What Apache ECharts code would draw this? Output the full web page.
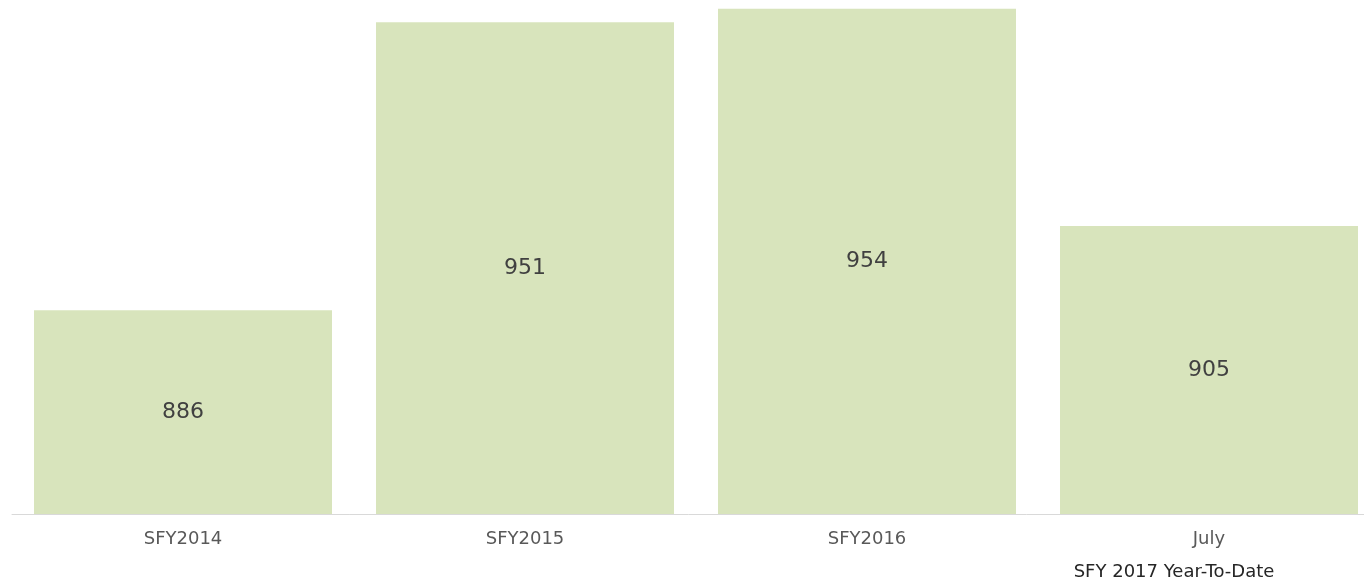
<!DOCTYPE html>
<html>
<head>
<meta charset="utf-8">
<script src="https://cdn.jsdelivr.net/npm/echarts@6/dist/echarts.min.js"></script>
<style>
  html, body { margin: 0; padding: 0; background: #fff; }
  #chart { width: 1364px; height: 586px; }
</style>
</head>
<body>
<div id="chart"></div>
<script>
const categories = ["SFY2014", "SFY2015", "SFY2016", "July"];
const values     = [886, 951, 954, 905];
const subLabel   = "SFY 2017 Year-To-Date";

let chart = echarts.init(document.getElementById("chart"));

chart.setOption({
  animation: false,
  grid: {
    left: 12, width: 1368, top: 0, bottom: 72,
    containLabel: false,
    outerBoundsMode: "none"
  },
  xAxis: {
    type: "category",
    data: categories,
    axisLine: { lineStyle: { color: "#d9d9d9", width: 1 } },
    axisTick: { show: false },
    axisLabel: {
      margin: 16,
      fontFamily: "DejaVu Sans",
      fontSize: 18,
      color: "#595959",
      formatter: function (v) {
        // last category carries a second caption under it
        if (v === "July") {
          return "{a|" + v + "}\n{b|" + subLabel + "}";
        }
        return v;
      },
      rich: {
        a: { fontFamily: "DejaVu Sans", fontSize: 18, color: "#595959", lineHeight: 18 },
        b: { fontFamily: "DejaVu Sans", fontSize: 18, color: "#262626", lineHeight: 48, padding: [0, 70, 0, 0] }
      }
    }
  },
  yAxis: {
    type: "value",
    min: 840,
    max: 956,
    show: false,
    splitLine: { show: false }
  },
  series: [{
    type: "bar",
    data: values,
    barWidth: 298,
    itemStyle: { color: "#d8e4bc" },
    label: {
      show: true,
      position: "inside",
      fontFamily: "DejaVu Sans",
      fontSize: 22,
      color: "#404040"
    }
  }]
});
</script>
</body>
</html>
